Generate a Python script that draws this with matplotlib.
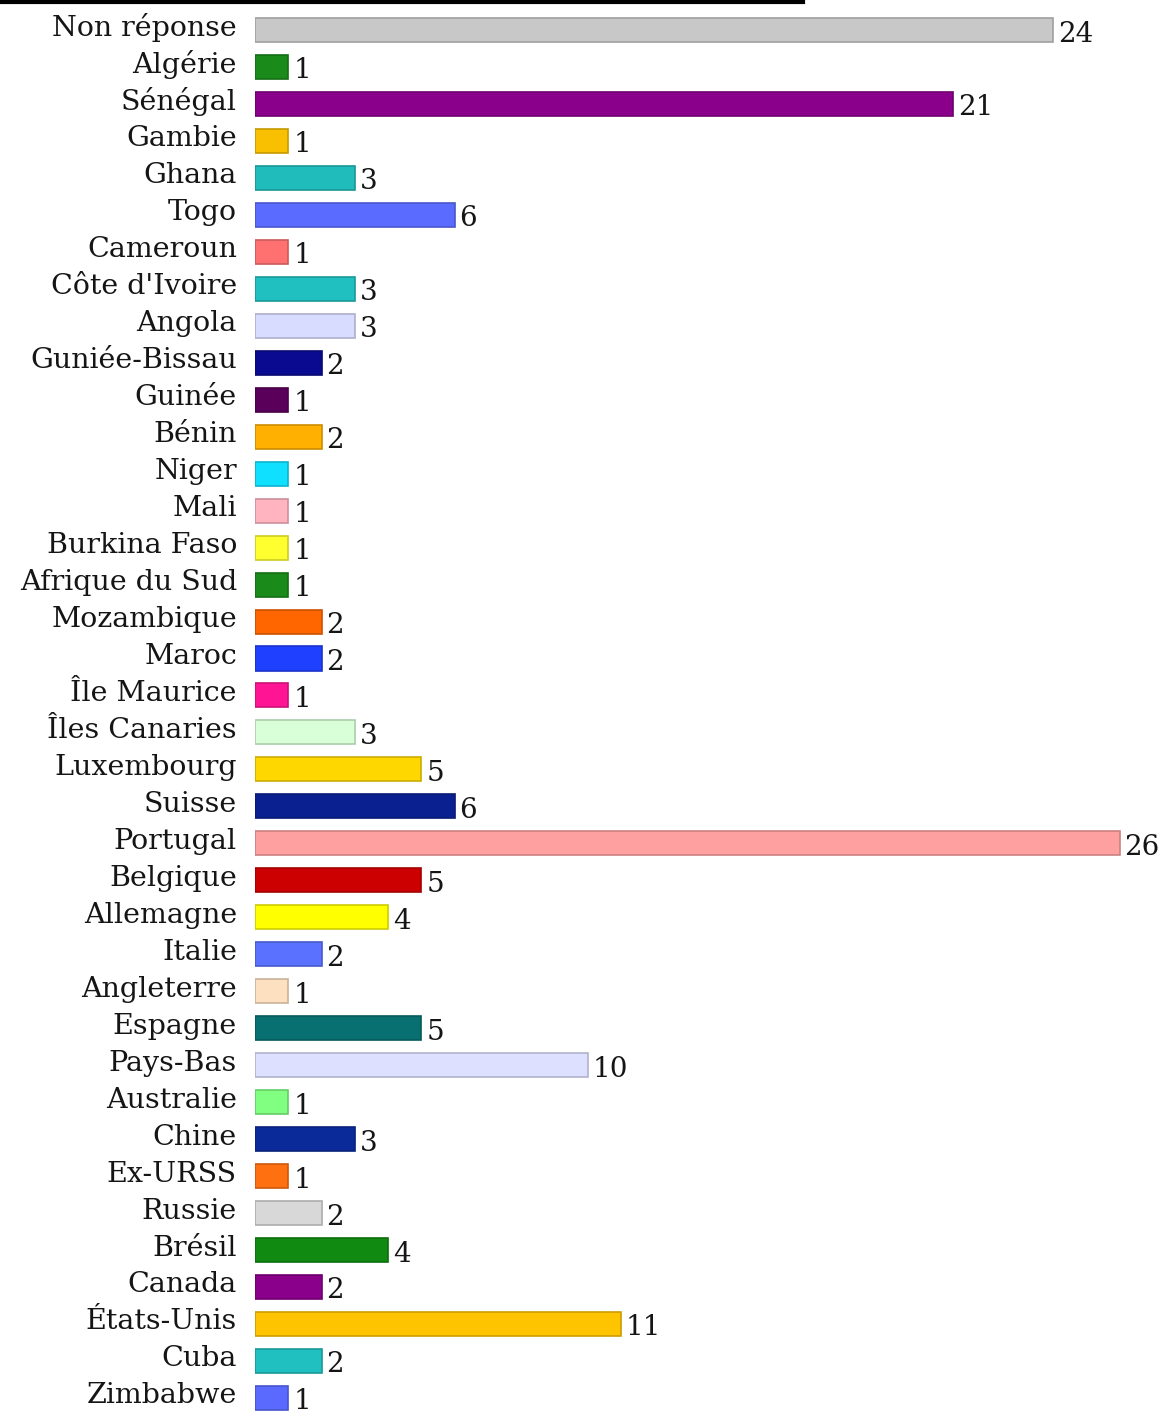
import matplotlib
matplotlib.use('Agg')
import matplotlib.pyplot as plt
import matplotlib.transforms as mtransforms
from matplotlib.colors import to_rgb
from matplotlib.lines import Line2D

pays = ['Non réponse', 'Algérie', 'Sénégal', 'Gambie', 'Ghana', 'Togo', 'Cameroun',
        "Côte d'Ivoire", 'Angola', 'Guniée-Bissau', 'Guinée', 'Bénin', 'Niger', 'Mali',
        'Burkina Faso', 'Afrique du Sud', 'Mozambique', 'Maroc', 'Île Maurice',
        'Îles Canaries', 'Luxembourg', 'Suisse', 'Portugal', 'Belgique', 'Allemagne',
        'Italie', 'Angleterre', 'Espagne', 'Pays-Bas', 'Australie', 'Chine', 'Ex-URSS',
        'Russie', 'Brésil', 'Canada', 'États-Unis', 'Cuba', 'Zimbabwe']
effectifs = [24, 1, 21, 1, 3, 6, 1, 3, 3, 2, 1, 2, 1, 1, 1, 1, 2, 2, 1, 3, 5, 6, 26,
             5, 4, 2, 1, 5, 10, 1, 3, 1, 2, 4, 2, 11, 2, 1]
couleurs = ['#c8c8c8', '#1a8a1a', '#8b008b', '#f8c000', '#20bcbc', '#5a6cff', '#ff7070',
            '#20c0c0', '#d8dcff', '#0a0a90', '#5a005a', '#ffb000', '#10e0ff', '#ffb4c0',
            '#ffff30', '#1a8a1a', '#ff6600', '#2040ff', '#ff1493', '#d8ffd8', '#ffd700',
            '#0a2090', '#ffa0a0', '#cc0000', '#ffff00', '#5a70ff', '#fde0c0', '#087070',
            '#dde0ff', '#80ff80', '#0a2a9a', '#ff7010', '#d8d8d8', '#108a10', '#8a008a',
            '#ffc400', '#20c0c0', '#5a6aff']

def darker(c, f=0.8):
    r, g, b = to_rgb(c)
    return (r * f, g * f, b * f)

plt.rcParams['font.family'] = ['DejaVu Serif']

W, H = 1168, 1412
fig = plt.figure(figsize=(W / 100, H / 100), dpi=100)
ax = fig.add_axes([255 / W, 0, 1 - 255 / W, 1])

pas = 36.97
y = list(range(len(pays)))
ax.barh(y, effectifs, height=0.65, color=couleurs,
        edgecolor=[darker(c) for c in couleurs], linewidth=1.2)

ax.set_xlim(0, (W - 255) / 33.25)
ax.set_ylim((H - 30) / pas, -30 / pas)

ax.set_yticks(y)
ax.set_yticklabels(pays, fontsize=20.5, color='#151515')
ax.tick_params(axis='y', length=0, pad=13)
ax.tick_params(axis='x', bottom=False, labelbottom=False)
decal = mtransforms.ScaledTranslation(0, 5 / 100, fig.dpi_scale_trans)
for lab in ax.get_yticklabels():
    lab.set_transform(lab.get_transform() + decal)

decal_val = mtransforms.offset_copy(ax.transData, fig=fig, x=5, y=-4, units='dots')
for yi, v in zip(y, effectifs):
    ax.text(v, yi, str(v), transform=decal_val, ha='left', va='center',
            fontsize=20, color='#151515')

for s in ax.spines.values():
    s.set_visible(False)

fig.add_artist(Line2D([0, 803 / W], [1 - 2 / H, 1 - 2 / H], color='black', lw=3,
                      transform=fig.transFigure))

plt.savefig('out.png', dpi=100)
